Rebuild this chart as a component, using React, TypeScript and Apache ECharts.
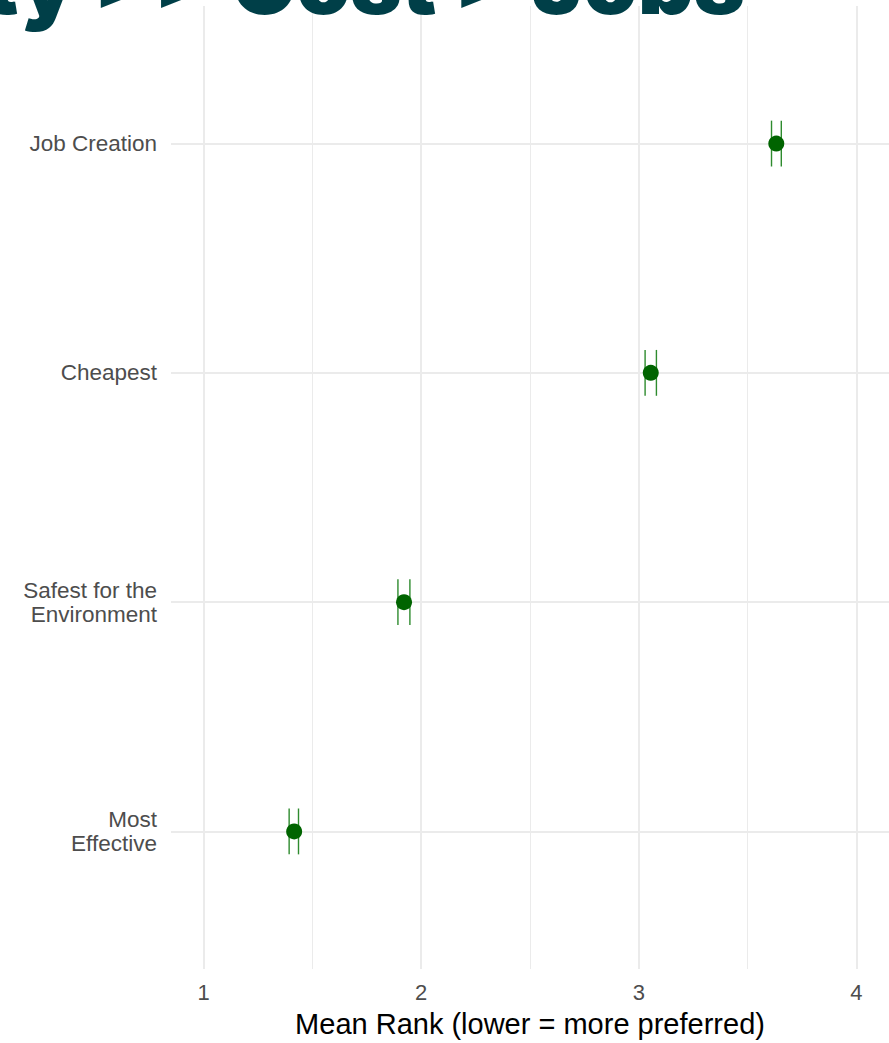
import React, { useEffect, useRef } from "react";
import * as echarts from "echarts";

const categoryLabels = ["Most\nEffective", "Safest for the\nEnvironment", "Cheapest", "Job Creation"];
const categoryPositions = [1, 2, 3, 4];
const meanRank = [1.416, 1.921, 3.055, 3.632];
const ciLower = [1.393, 1.893, 3.029, 3.61];
const ciUpper = [1.436, 1.948, 3.081, 3.655];
const xTicks = [1, 2, 3, 4];
const xMinorTicks = [1.5, 2.5, 3.5];
const titleText = "Safety >> Cost > Jobs";
const xAxisTitle = "Mean Rank (lower = more preferred)";

export default function App() {
  const ref = useRef<HTMLDivElement>(null);
  useEffect(() => {
    if (!ref.current) return;
    const chart = echarts.init(ref.current, null, { renderer: "svg" });
    const grid = "#EBEBEB";
    const textColor = "#4D4D4D";
    chart.setOption({
      animation: false,
      backgroundColor: "#FFFFFF",
      graphic: [
        {
          type: "text",
          right: 144,
          top: -61,
          style: {
            text: titleText,
            font: "900 87px Inter",
            fill: "#003F48",
          },
          z: 100,
        },
      ],
      grid: { left: 171, right: -1, top: 6, bottom: 64, containLabel: false },
      xAxis: {
        type: "value",
        min: 0.85,
        max: 4.15,
        name: xAxisTitle,
        nameLocation: "middle",
        nameGap: 40,
        nameTextStyle: { fontSize: 29, color: "#000000", fontFamily: "Liberation Sans", verticalAlign: "top" },
        axisLine: { show: false },
        axisTick: { show: false, customValues: xTicks },
        axisLabel: {
          customValues: xTicks,
          fontSize: 22,
          color: textColor,
          fontFamily: "Liberation Sans",
          margin: 12,
        },
        splitLine: { show: true, lineStyle: { color: grid, width: 2 } },
      },
      yAxis: {
        type: "value",
        min: 0.4,
        max: 4.6,
        axisLine: { show: false },
        axisTick: { show: false, customValues: categoryPositions },
        axisLabel: {
          customValues: categoryPositions,
          formatter: (v: number) => categoryLabels[Math.round(v) - 1] ?? "",
          fontSize: 22.5,
          lineHeight: 24,
          color: textColor,
          fontFamily: "Liberation Sans",
          margin: 14,
          align: "right",
        },
        splitLine: { show: true, lineStyle: { color: grid, width: 2 } },
      },
      series: [
        {
          type: "line",
          data: [],
          markLine: {
            silent: true,
            symbol: "none",
            label: { show: false },
            lineStyle: { color: grid, width: 1, type: "solid" },
            data: xMinorTicks.map((v) => ({ xAxis: v })),
          },
        },
        {
          type: "custom",
          data: categoryPositions.map((y, i) => [ciLower[i], ciUpper[i], y]),
          encode: { x: [0, 1], y: 2 },
          renderItem: (params: any, api: any) => {
            const lo = api.value(0);
            const hi = api.value(1);
            const y = api.value(2);
            const p1 = api.coord([lo, y]);
            const p2 = api.coord([hi, y]);
            const h = Math.abs(api.size([0, 0.2])[1]) / 2;
            const style = { stroke: "#2E8B2E", lineWidth: 1.4 };
            return {
              type: "group",
              children: [
                { type: "line", shape: { x1: p1[0], y1: p1[1], x2: p2[0], y2: p2[1] }, style },
                { type: "line", shape: { x1: p1[0], y1: p1[1] - h, x2: p1[0], y2: p1[1] + h }, style },
                { type: "line", shape: { x1: p2[0], y1: p2[1] - h, x2: p2[0], y2: p2[1] + h }, style },
              ],
            };
          },
          z: 2,
        },
        {
          type: "scatter",
          data: categoryPositions.map((y, i) => [meanRank[i], y]),
          symbol: "circle",
          symbolSize: 16,
          itemStyle: { color: "#006400", opacity: 1 },
          z: 3,
        },
      ],
    });
    return () => chart.dispose();
  }, []);
  return (
    <div
      ref={ref}
      style={{ position: "fixed", left: 0, top: 0, width: 889, height: 1043 }}
    />
  );
}
